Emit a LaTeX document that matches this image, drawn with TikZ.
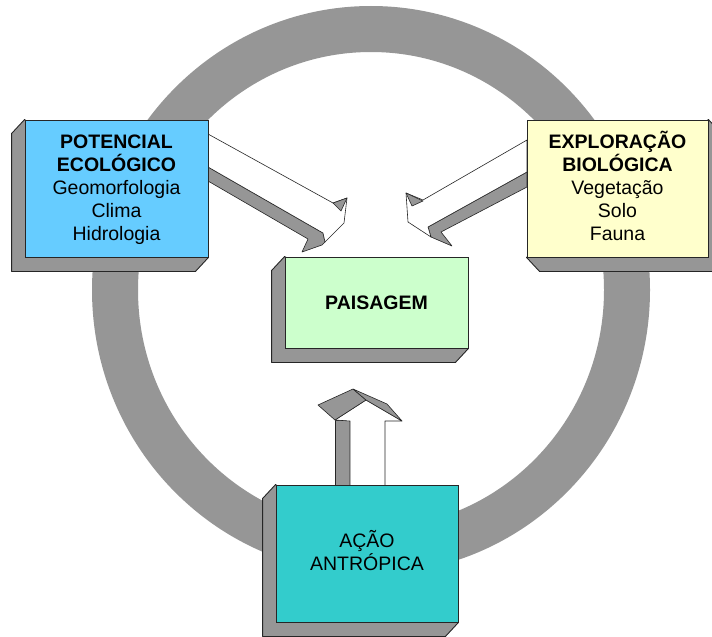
\documentclass[tikz,border=0pt]{standalone}
\usepackage{fontspec}
\setmainfont{Liberation Sans}
\definecolor{sidegray}{HTML}{969696}
\definecolor{ringgray}{HTML}{969696}
\definecolor{edgecol}{HTML}{262626}
\definecolor{potblue}{HTML}{66CCFF}
\definecolor{expyellow}{HTML}{FFFFCC}
\definecolor{paigreen}{HTML}{CCFFCC}
\definecolor{acaoteal}{HTML}{33CCCC}
\newcommand\topstrut{\rule{0pt}{18pt}}
\newcommand\botstrut{\rule[-7pt]{0pt}{7pt}}
\pgfdeclarelayer{ringlayer}
\pgfdeclarelayer{midlayer}
\pgfsetlayers{ringlayer,midlayer,main}
\begin{document}
\begin{tikzpicture}[x=1pt,y=-1pt,
  box/.style={draw=edgecol, line width=0.9pt, inner sep=0pt, align=center,
    font=\fontsize{19.5}{23}\selectfont, text=black},
  side/.style={fill=sidegray, draw=edgecol, line width=0.9pt, line join=round},
  arrowface/.style={fill=white, draw=edgecol, line width=0.6pt, line join=round},
  arrowside/.style={fill=sidegray, draw=edgecol, line width=0.6pt, line join=round}]
\useasboundingbox (0,0) rectangle (712,637);

% box fronts
\node[box, fill=potblue, minimum width=183pt, minimum height=137pt] (pot) at (116.5,188.5)
  {\topstrut\textbf{POTENCIAL}\\\textbf{ECOLÓGICO}\\Geomorfologia\\Clima\\Hidrologia\botstrut};
\node[box, fill=expyellow, minimum width=181pt, minimum height=137pt] (exp) at (617.5,188.5)
  {\topstrut\textbf{EXPLORAÇÃO}\\\textbf{BIOLÓGICA}\\Vegetação\\Solo\\Fauna\botstrut};
\node[box, fill=paigreen, minimum width=183pt, minimum height=91pt] (pai) at (376.5,302.5)
  {\textbf{PAISAGEM}};
\node[box, fill=acaoteal, minimum width=182pt, minimum height=137pt] (acao) at (367,553.5)
  {\topstrut AÇÃO\\ANTRÓPICA\botstrut};

\begin{pgfonlayer}{ringlayer}
\fill[white] (0,0) rectangle (712,637);
\draw[ringgray, line width=46pt] (371,290) ellipse [x radius=256pt, y radius=261pt];
\end{pgfonlayer}

\begin{pgfonlayer}{midlayer}
% 3D sides of the boxes
\draw[side] (pot.north west) -- ++(-13,14) |- ([shift={(-13,14)}]pot.south east) -- (pot.south east) -- cycle;
\draw[side] (pai.north west) -- ++(-13,14) |- ([shift={(-13,14)}]pai.south east) -- (pai.south east) -- cycle;
\draw[side] (acao.north west) -- ++(-13,14) |- ([shift={(-13,14)}]acao.south east) -- (acao.south east) -- cycle;
\draw[side] (exp.north east) -- ++(13,14) |- ([shift={(13,14)}]exp.south west) -- (exp.south west) -- cycle;

% left block arrow
\draw[arrowside] (208,167) -- (323,233) -- (325,242) -- (322,245) -- (302,252) -- (308,239) -- (208,181) -- cycle;
\draw[arrowface] (208,134) -- (333,203) -- (347,198) -- (344,223) -- (325,242) -- (323,233) -- (208,167) -- cycle;
\draw[arrowside] (333,203) -- (347,198) -- (341,211) -- cycle;

% right block arrow
\draw[arrowside] (527,172) -- (428,227) -- (431,237) -- (452,246) -- (441,232) -- (527,187) -- cycle;
\draw[arrowface] (527,140) -- (423,200) -- (406,193) -- (408,222) -- (431,237) -- (428,227) -- (527,172) -- cycle;
\draw[arrowside] (406,193) -- (423,201) -- (412,206) -- cycle;

% upward block arrow
\draw[arrowside] (335,420) rectangle (350,486);
\draw[arrowface] (350,486) -- (350,421) -- (335,420) -- (366,400) -- (402,421) -- (385,421) -- (385,486);
\draw[arrowside] (318,405) -- (353,389) -- (366,400) -- (335,420) -- cycle;
\draw[arrowside] (353,389) -- (387,404) -- (402,421) -- (366,400) -- cycle;
\end{pgfonlayer}
\end{tikzpicture}
\end{document}
